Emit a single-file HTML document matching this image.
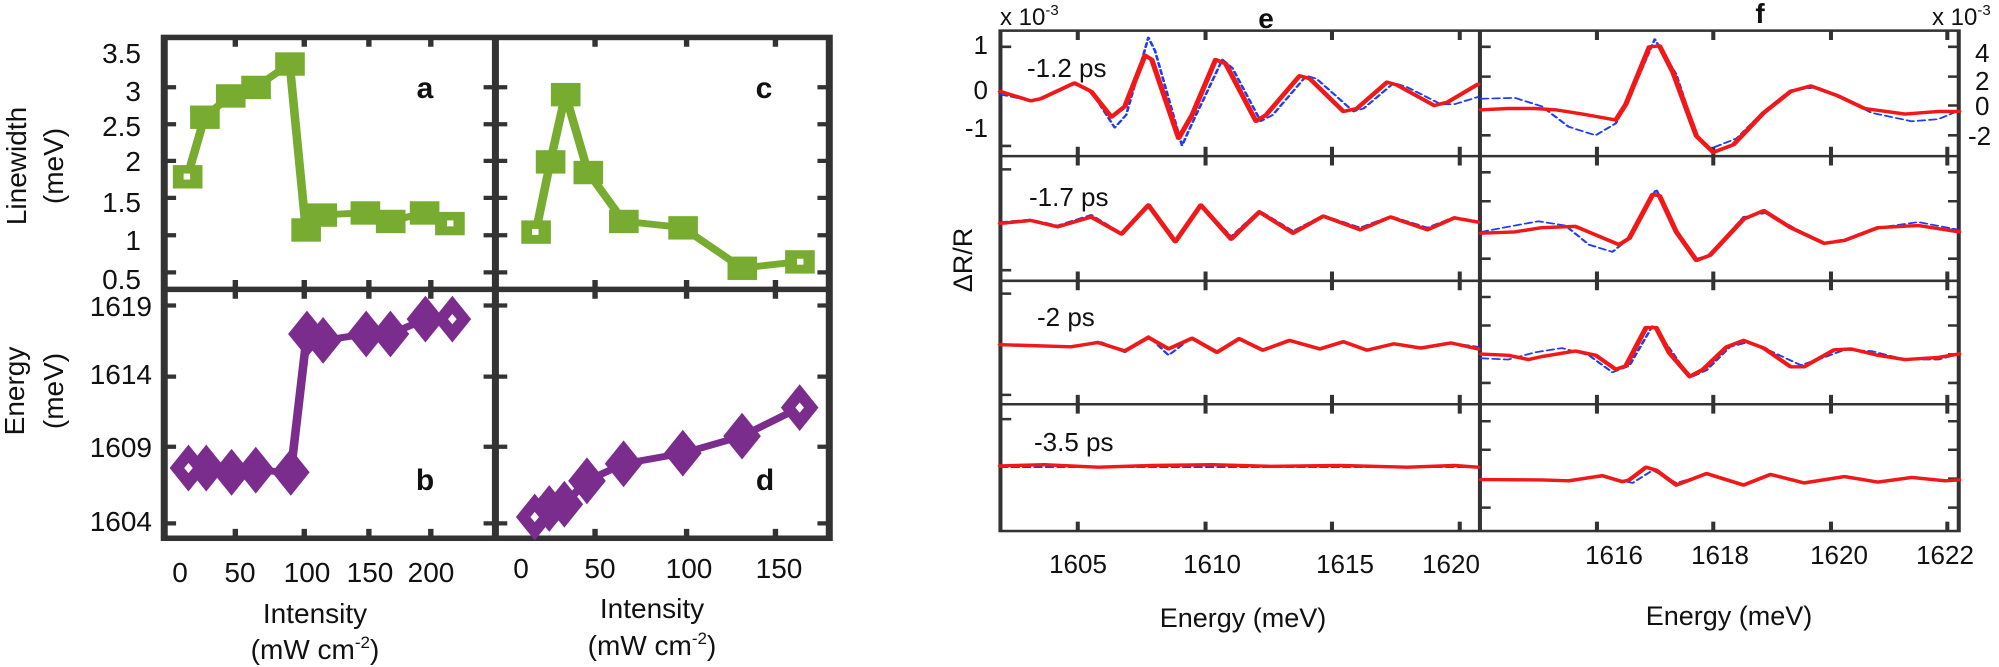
<!DOCTYPE html>
<html><head><meta charset="utf-8"><style>
html,body{margin:0;padding:0;background:#fff}
svg{display:block}
text{font-family:"Liberation Sans",Arial,sans-serif;fill:#111}
</style></head><body>
<svg width="1999" height="667" viewBox="0 0 1999 667" xmlns="http://www.w3.org/2000/svg">
<g transform="scale(0.5385,0.4255)">
  <g stroke="#333" stroke-width="10" fill="none">
    <path d="M437,88v22M565,88v22M685,88v22M800,88v22 M437,680v-22M565,680v-22M685,680v-22M800,680v-22 M437,680v22M565,680v22M685,680v22M800,680v22 M437,1265v-22M565,1265v-22M685,1265v-22M800,1265v-22"/>
    <path d="M1105,88v22M1275,88v22M1440,88v22 M1105,680v-22M1275,680v-22M1440,680v-22 M1105,680v22M1275,680v22M1440,680v22 M1105,1265v-22M1275,1265v-22M1440,1265v-22"/>
    <path d="M305,205h22M305,292h22M305,378h22M305,465h22M305,553h22M305,640h22 M920,205h-22M920,292h-22M920,378h-22M920,465h-22M920,553h-22M920,640h-22 M920,205h22M920,292h22M920,378h22M920,465h22M920,553h22M920,640h22 M1540,205h-22M1540,292h-22M1540,378h-22M1540,465h-22M1540,553h-22M1540,640h-22"/>
    <path d="M305,718h22M305,885h22M305,1050h22M305,1230h22 M920,718h-22M920,885h-22M920,1050h-22M920,1230h-22 M920,718h22M920,885h22M920,1050h22M920,1230h22 M1540,718h-22M1540,885h-22M1540,1050h-22M1540,1230h-22"/>
    <rect x="305" y="88" width="1235" height="1177" stroke-width="13"/>
    <path d="M305,680H1540M920,88V1265" stroke-width="13"/>
  </g>
  <polyline fill="none" stroke="#77ac30" stroke-width="16" stroke-linejoin="round" points="348,415 380,275 428,225 475,205 538,150 568,540 598,505 678,500 725,520 788,500 835,525"/>
  <g fill="#77ac30">
    <rect x="321" y="388" width="55" height="55"/><rect x="353" y="248" width="55" height="55"/><rect x="401" y="198" width="55" height="55"/><rect x="448" y="178" width="55" height="55"/><rect x="511" y="123" width="55" height="55"/><rect x="541" y="513" width="55" height="55"/><rect x="571" y="478" width="55" height="55"/><rect x="651" y="473" width="55" height="55"/><rect x="698" y="493" width="55" height="55"/><rect x="761" y="473" width="55" height="55"/><rect x="808" y="498" width="55" height="55"/>
  </g>
  <polyline fill="none" stroke="#77ac30" stroke-width="16" stroke-linejoin="round" points="995,545 1022,380 1050,222 1092,405 1158,520 1268,535 1378,630 1485,615"/>
  <g fill="#77ac30">
    <rect x="968" y="518" width="55" height="55"/><rect x="995" y="353" width="55" height="55"/><rect x="1023" y="195" width="55" height="55"/><rect x="1065" y="378" width="55" height="55"/><rect x="1131" y="493" width="55" height="55"/><rect x="1241" y="508" width="55" height="55"/><rect x="1351" y="603" width="55" height="55"/><rect x="1458" y="588" width="55" height="55"/>
  </g>
  <g fill="#fff"><rect x="341" y="408" width="12" height="14"/><rect x="830" y="518" width="12" height="14"/><rect x="988" y="538" width="12" height="14"/><rect x="1480" y="608" width="12" height="14"/></g>
  <polyline fill="none" stroke="#7b2d8e" stroke-width="16" stroke-linejoin="round" points="350,1100 383,1100 430,1110 475,1105 540,1110 570,785 600,800 680,785 725,785 790,750 840,750"/>
  <g fill="#7b2d8e">
    <path d="M350,1045l35,55l-35,55l-35,-55z"/><path d="M383,1045l35,55l-35,55l-35,-55z"/><path d="M430,1055l35,55l-35,55l-35,-55z"/><path d="M475,1050l35,55l-35,55l-35,-55z"/><path d="M540,1055l35,55l-35,55l-35,-55z"/><path d="M570,730l35,55l-35,55l-35,-55z"/><path d="M600,745l35,55l-35,55l-35,-55z"/><path d="M680,730l35,55l-35,55l-35,-55z"/><path d="M725,730l35,55l-35,55l-35,-55z"/><path d="M790,695l35,55l-35,55l-35,-55z"/><path d="M840,695l35,55l-35,55l-35,-55z"/>
  </g>
  <polyline fill="none" stroke="#7b2d8e" stroke-width="16" stroke-linejoin="round" points="993,1215 1020,1195 1048,1185 1090,1130 1158,1090 1268,1065 1378,1025 1485,958"/>
  <g fill="#7b2d8e">
    <path d="M993,1160l35,55l-35,55l-35,-55z"/><path d="M1020,1140l35,55l-35,55l-35,-55z"/><path d="M1048,1130l35,55l-35,55l-35,-55z"/><path d="M1090,1075l35,55l-35,55l-35,-55z"/><path d="M1158,1035l35,55l-35,55l-35,-55z"/><path d="M1268,1010l35,55l-35,55l-35,-55z"/><path d="M1378,970l35,55l-35,55l-35,-55z"/><path d="M1485,903l35,55l-35,55l-35,-55z"/>
  </g>
  <g fill="#fff"><path d="M350,1088l8,12l-8,12l-8,-12z"/><path d="M840,738l8,12l-8,12l-8,-12z"/><path d="M993,1203l8,12l-8,12l-8,-12z"/><path d="M1485,946l8,12l-8,12l-8,-12z"/></g>
</g>
<g font-size="28" text-anchor="end">
  <text x="141" y="63">3.5</text><text x="141" y="101">3</text><text x="141" y="136">2.5</text><text x="141" y="171">2</text><text x="141" y="212">1.5</text><text x="141" y="250">1</text><text x="141" y="289">0.5</text>
  <text x="152" y="316">1619</text><text x="152" y="384">1614</text><text x="152" y="457">1609</text><text x="152" y="531">1604</text>
</g>
<g font-size="28" text-anchor="middle">
  <text x="180" y="582">0</text><text x="240" y="582">50</text><text x="307" y="582">100</text><text x="370" y="582">150</text><text x="431" y="582">200</text>
  <text x="521" y="578">0</text><text x="600" y="578">50</text><text x="689" y="578">100</text><text x="779" y="578">150</text>
</g>
<g font-size="28" text-anchor="middle">
  <text x="315" y="623">Intensity</text><text x="315" y="659">(mW cm<tspan font-size="17" dy="-11">-2</tspan><tspan dy="11">)</tspan></text>
  <text x="652" y="618">Intensity</text><text x="652" y="655">(mW cm<tspan font-size="17" dy="-11">-2</tspan><tspan dy="11">)</tspan></text>
  <text transform="translate(26,166) rotate(-90)">Linewidth</text>
  <text transform="translate(63,166) rotate(-90)">(meV)</text>
  <text transform="translate(24,391) rotate(-90)">Energy</text>
  <text transform="translate(63,391) rotate(-90)">(meV)</text>
</g>
<g font-size="30" font-weight="bold" text-anchor="middle">
  <text x="425" y="98">a</text><text x="764" y="98">c</text><text x="425" y="490">b</text><text x="765" y="490">d</text>
</g>

<g transform="translate(950,0) scale(0.6725,0.4255)">
  <g stroke="#333" stroke-width="6" fill="none">
    <path d="M190,72v22M380,72v22M568,72v22M758,72v22 M190,367v-22M380,367v-22M568,367v-22M758,367v-22 M190,367v22M380,367v22M568,367v22M758,367v22 M190,660v-22M380,660v-22M568,660v-22M758,660v-22 M190,660v22M380,660v22M568,660v22M758,660v22 M190,950v-22M380,950v-22M568,950v-22M758,950v-22 M190,950v22M380,950v22M568,950v22M758,950v22 M190,1248v-22M380,1248v-22M568,1248v-22M758,1248v-22"/>
    <path d="M962,72v22M1135,72v22M1310,72v22M1483,72v22 M962,367v-22M1135,367v-22M1310,367v-22M1483,367v-22 M962,367v22M1135,367v22M1310,367v22M1483,367v22 M962,660v-22M1135,660v-22M1310,660v-22M1483,660v-22 M962,660v22M1135,660v22M1310,660v22M1483,660v22 M962,950v-22M1135,950v-22M1310,950v-22M1483,950v-22 M962,950v22M1135,950v22M1310,950v22M1483,950v22 M962,1248v-22M1135,1248v-22M1310,1248v-22M1483,1248v-22"/>
    <path d="M75,110h16M75,343h16 M75,398h16M75,635h16 M75,690h16M75,928h16 M75,985h16"/>
    <path d="M788,110h16M788,180h16M788,318h16 M788,405h16M788,473h16M788,608h16 M788,698h16M788,765h16M788,900h16 M788,990h16M788,1057h16M788,1193h16"/>
    <path d="M1500,110h-16M1500,180h-16M1500,248h-16M1500,318h-16 M1500,405h-16M1500,473h-16M1500,540h-16M1500,608h-16 M1500,698h-16M1500,765h-16M1500,833h-16M1500,900h-16 M1500,990h-16M1500,1057h-16M1500,1125h-16M1500,1193h-16"/>
    <rect x="75" y="72" width="1425" height="1176"/>
    <path d="M788,72V1248M75,367H1500M75,660H1500M75,950H1500"/>
  </g>
  <g fill="none" stroke-linejoin="round" stroke-linecap="round">
  <g stroke="#1f3df0" stroke-width="4" stroke-dasharray="10,7">
    <polyline points="75,222 120,237 135,232 185,198 210,215 245,300 262,270 295,88 305,120 345,342 360,290 405,140 420,160 462,285 480,270 530,178 545,185 600,262 615,255 660,195 680,205 730,245 750,245 785,228"/>
    <polyline points="75,522 120,516 160,530 210,505 255,548 295,478 335,566 373,480 418,556 460,495 510,543 555,506 610,535 655,508 710,535 750,510 785,520"/>
    <polyline points="75,812 180,815 222,802 260,828 295,790 325,835 360,793 397,826 430,796 465,823 505,800 550,820 585,803 620,823 660,808 700,818 745,806 785,815"/>
    <polyline points="75,1098 785,1098"/>
    <polyline points="790,232 840,230 880,250 920,298 960,318 990,290 1010,230 1048,92 1080,175 1110,320 1130,350 1170,325 1210,262 1250,212 1290,205 1330,232 1370,265 1430,285 1470,280 1500,260"/>
    <polyline points="790,545 840,530 875,520 915,530 950,575 985,592 1010,560 1050,445 1080,540 1110,608 1130,600 1180,510 1215,500 1260,540 1300,570 1340,560 1380,535 1440,522 1500,540"/>
    <polyline points="790,842 830,845 870,828 910,818 950,835 985,875 1010,860 1045,765 1075,830 1100,888 1125,870 1160,815 1185,805 1220,825 1265,858 1300,840 1330,822 1370,825 1420,845 1470,845 1500,832"/>
    <polyline points="790,1127 880,1128 920,1130 970,1120 1015,1135 1045,1105 1080,1135 1125,1115 1180,1138 1220,1117 1270,1133 1330,1120 1380,1132 1430,1122 1480,1130 1500,1128"/>
  </g>
  <g stroke="#f01818" stroke-width="8">
    <polyline points="75,215 120,237 135,232 185,195 210,215 240,275 260,250 290,130 300,140 340,325 360,270 395,140 410,150 455,285 470,270 520,178 535,185 585,262 605,255 650,193 665,200 720,248 740,240 785,198"/>
    <polyline points="75,525 120,518 160,533 210,510 255,550 295,482 335,568 373,482 418,562 460,498 510,548 555,508 610,540 655,510 710,540 750,512 785,522"/>
    <polyline points="75,810 180,815 220,805 260,825 295,793 325,820 360,795 397,828 430,796 465,823 505,800 550,820 585,803 620,823 660,808 700,818 745,806 785,820"/>
    <polyline points="75,1095 140,1092 220,1098 300,1094 390,1092 480,1096 580,1094 680,1098 750,1094 785,1098"/>
    <polyline points="790,258 830,255 870,255 900,258 940,268 990,282 1005,245 1040,110 1055,108 1075,170 1110,320 1135,358 1165,340 1210,265 1250,215 1280,202 1320,225 1360,255 1420,268 1470,262 1500,262"/>
    <polyline points="790,548 840,545 880,535 930,532 960,552 995,575 1010,560 1045,457 1055,460 1080,545 1110,612 1130,600 1180,515 1210,495 1250,535 1300,572 1330,565 1380,535 1440,530 1500,545"/>
    <polyline points="790,832 830,835 860,845 880,838 930,825 960,835 990,868 1005,860 1035,770 1050,770 1070,830 1100,885 1120,868 1155,815 1180,800 1210,818 1250,862 1270,862 1315,822 1340,820 1380,835 1420,845 1470,840 1500,832"/>
    <polyline points="790,1127 880,1128 920,1130 970,1118 1000,1132 1010,1128 1035,1098 1050,1105 1080,1140 1125,1113 1180,1140 1220,1115 1270,1135 1330,1120 1380,1133 1430,1122 1480,1130 1500,1128"/>
  </g>
  </g>
</g>
<g font-size="26">
  <text x="1000" y="25" font-size="24">x 10<tspan font-size="15" dy="-10">-3</tspan></text>
  <text x="1932" y="25" font-size="24">x 10<tspan font-size="15" dy="-10">-3</tspan></text>
  <text x="1266" y="28" font-size="28" font-weight="bold" text-anchor="middle">e</text>
  <text x="1760" y="23" font-size="28" font-weight="bold" text-anchor="middle">f</text>
  <g text-anchor="end"><text x="988" y="54">1</text><text x="988" y="99">0</text><text x="988" y="137">-1</text></g>
  <text x="1975" y="62">4</text><text x="1975" y="90">2</text><text x="1975" y="115">0</text><text x="1968" y="145">-2</text>
  <text x="1027" y="77">-1.2 ps</text><text x="1029" y="206">-1.7 ps</text><text x="1037" y="326">-2 ps</text><text x="1034" y="451">-3.5 ps</text>
  <g text-anchor="middle">
    <text x="1078" y="573">1605</text><text x="1212" y="573">1610</text><text x="1345" y="573">1615</text><text x="1451" y="573">1620</text>
    <text x="1614" y="564">1616</text><text x="1720" y="564">1618</text><text x="1839" y="564">1620</text><text x="1945" y="564">1622</text>
    <text x="1243" y="627" font-size="27">Energy (meV)</text><text x="1729" y="625" font-size="27">Energy (meV)</text>
    <text transform="translate(972,260) rotate(-90)" font-size="27">ΔR/R</text>
  </g>
</g>
</svg>
</body></html>
